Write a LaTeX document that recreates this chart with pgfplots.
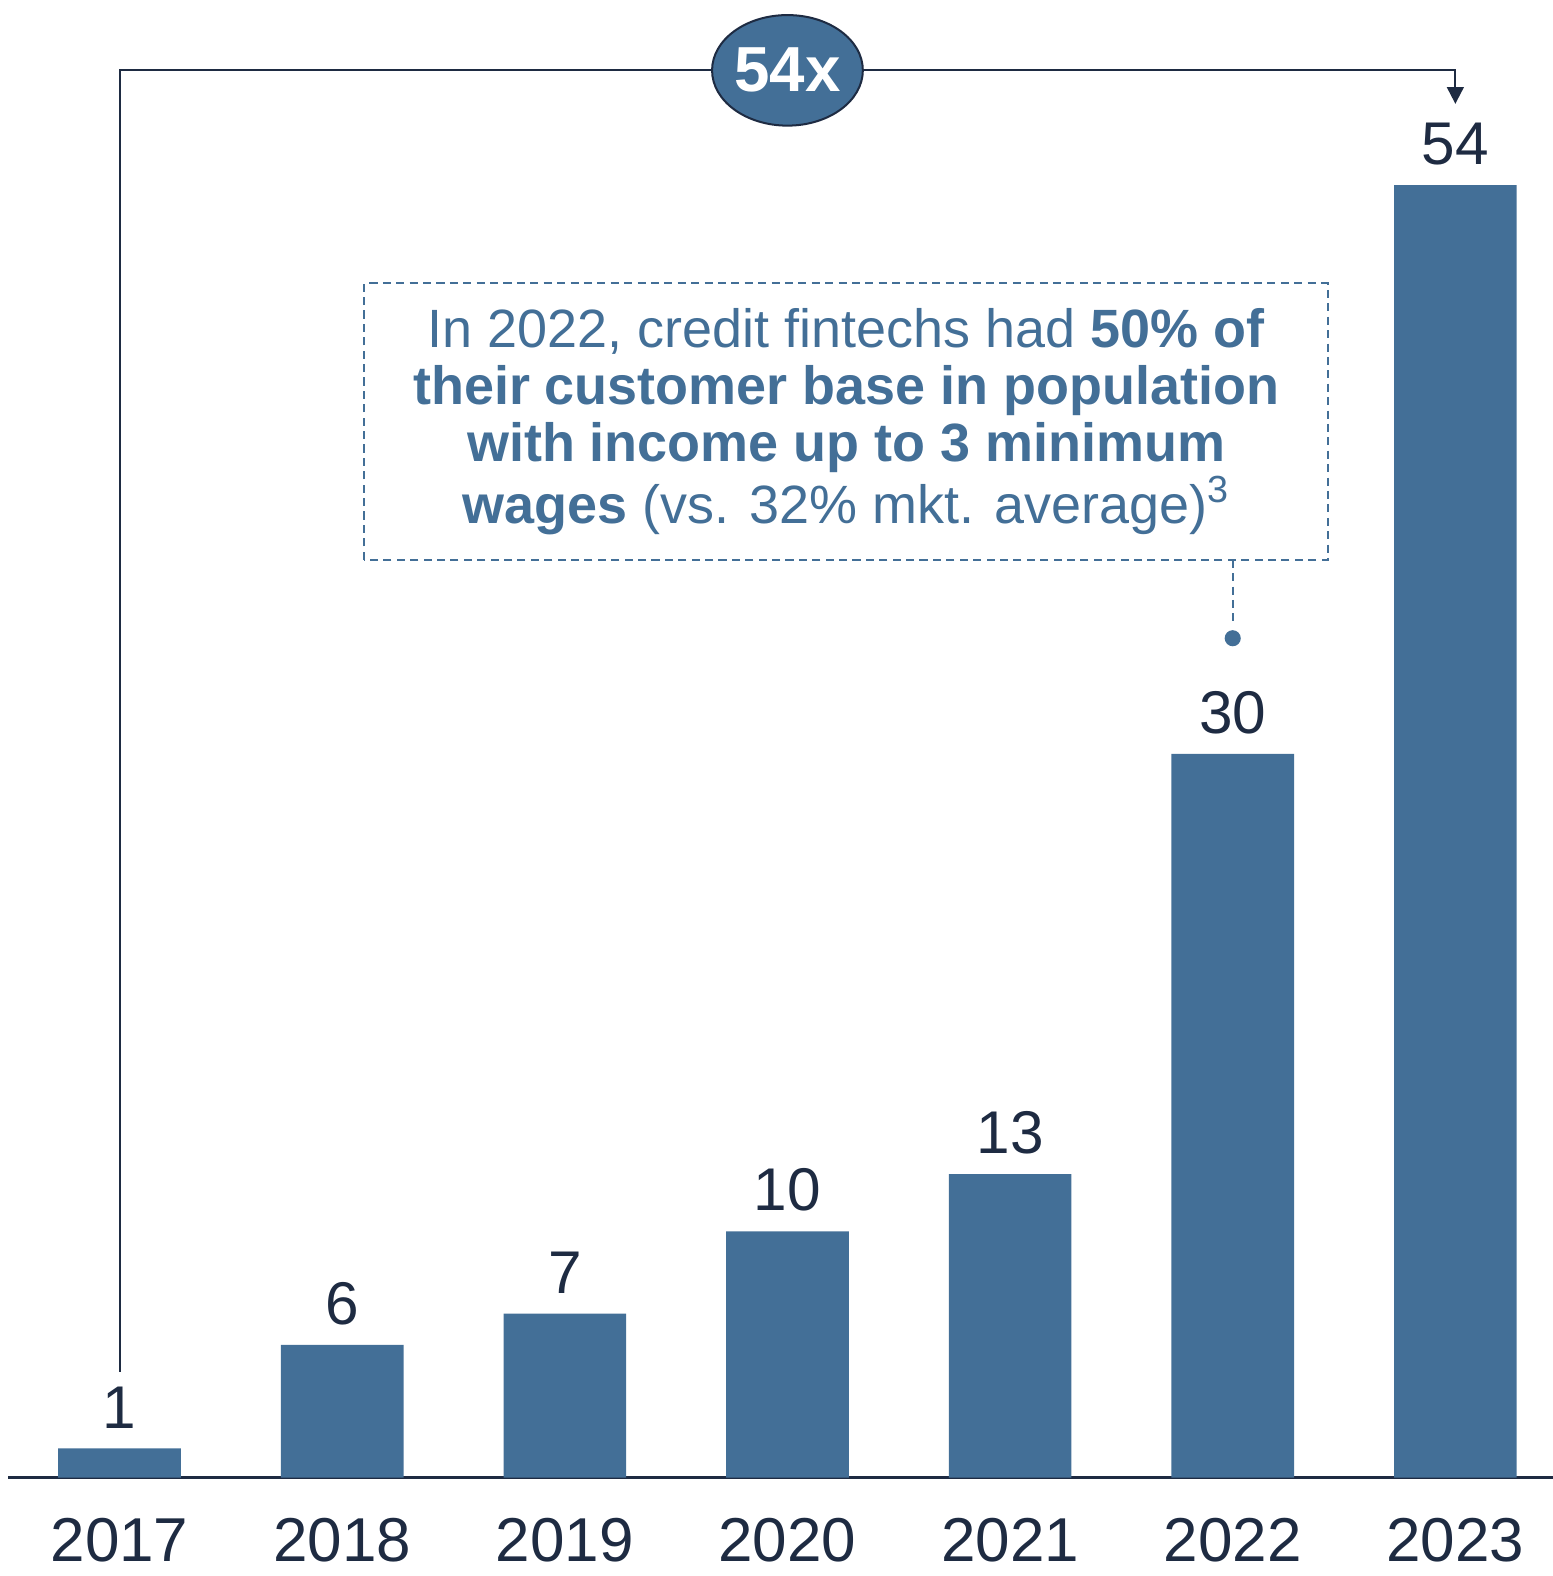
\documentclass[border=0pt]{standalone}
\usepackage{pgfplots}
\pgfplotsset{compat=1.18}
\usepackage{fontspec}
\setmainfont{Liberation Sans}
\usetikzlibrary{shapes.geometric,arrows.meta}
\definecolor{barblue}{HTML}{436F97}
\definecolor{darkink}{HTML}{1E2B42}
\pgfplotstableread{
x val lab
0 1.22 1
1 5.54 6
2 6.85 7
3 10.29 10
4 12.68 13
5 30.24 30
6 54.0 54
}\datatable
\begin{document}
\begin{tikzpicture}
\begin{axis}[
  scale only axis,
  width=461.1pt, height=441pt,
  xmin=-0.501, xmax=6.438,
  ymin=0, ymax=61.74,
  clip=false,
  axis x line=bottom,
  axis y line=none,
  x axis line style={draw=darkink, line width=0.7pt, -},
  xtick={0,1,2,3,4,5,6},
  xticklabels={2017,2018,2019,2020,2021,2022,2023},
  major tick length=0pt,
  xticklabel style={font=\fontsize{18.5}{20}\selectfont, text=darkink, anchor=north, inner sep=0pt, yshift=-12pt},
  ybar, bar width=36.6pt,
  nodes near coords,
  point meta=explicit symbolic,
  every node near coord/.append style={font=\fontsize{18}{20}\selectfont, text=darkink, anchor=south, inner sep=0pt, yshift=5.7pt},
]
\addplot[fill=barblue, draw=none] table[x=x, y=val, meta=lab] {\datatable};

% bracket
\draw[darkink, line width=0.6pt] (axis cs:0,4.41) -- (axis cs:0,58.8) -- (axis cs:6,58.8) -- (axis cs:6,58.1);
\draw[darkink, line width=0.6pt, -{Triangle[length=5pt,width=5pt]}] (axis cs:6,58.2) -- (axis cs:6,57.4);
\node[ellipse, fill=barblue, draw=darkink, line width=0.6pt, minimum width=45pt, minimum height=33pt, inner sep=0pt, text=white, font=\fontsize{19}{20}\selectfont\bfseries] at (axis cs:3,58.8) {54x};

% annotation box
\draw[barblue, line width=0.6pt, dash pattern=on 2.4pt off 1.6pt] (axis cs:1.10,38.35) rectangle (axis cs:5.427,49.9);
\node[align=center, text=barblue, font=\fontsize{16.1}{17.1}\selectfont, inner sep=0pt] at (axis cs:3.264,44.12)
 {In 2022, credit fintechs had \textbf{50\% of}\\
  \textbf{their customer base in population}\\
  \textbf{with income up to 3 minimum}\\
  \textbf{wages} (vs. 32\% mkt. average)\textsuperscript{3}};
\draw[barblue, line width=0.6pt, dash pattern=on 2.4pt off 1.6pt] (axis cs:5,38.35) -- (axis cs:5,35.6);
\fill[barblue] (axis cs:5,35.07) circle (2.4pt);

\coordinate (bl) at (axis cs:-0.537,-4.116);
\coordinate (tr) at (axis cs:6.438,61.74);
\end{axis}
\pgfresetboundingbox
\useasboundingbox (bl) rectangle (tr);
\end{tikzpicture}
\end{document}
